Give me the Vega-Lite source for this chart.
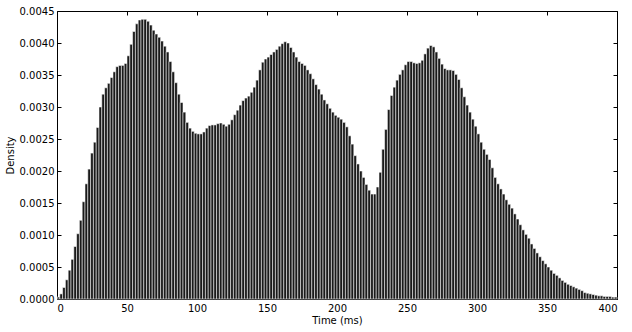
{
  "$schema": "https://vega.github.io/schema/vega-lite/v6.json",
  "autosize": "none",
  "width": 560,
  "height": 288,
  "padding": {"left": 57, "top": 11, "right": 15, "bottom": 33},
  "background": "white",
  "config": {
    "font": "DejaVu Sans",
    "view": {"stroke": "black", "strokeWidth": 1},
    "axis": {
      "grid": false,
      "domain": false,
      "tickColor": "black",
      "tickSize": -4,
      "labelFont": "DejaVu Sans",
      "labelFontSize": 10,
      "labelColor": "black",
      "titleFont": "DejaVu Sans",
      "titleFontSize": 10,
      "titleFontWeight": "normal",
      "titleColor": "black"
    }
  },
  "data": {"values": [
    {"bin":0,"bin_end":2,"density":0.00003},{"bin":2,"bin_end":4,"density":0.00008},{"bin":4,"bin_end":6,"density":0.00018},{"bin":6,"bin_end":8,"density":0.0003},{"bin":8,"bin_end":10,"density":0.00045},
    {"bin":10,"bin_end":12,"density":0.00062},{"bin":12,"bin_end":14,"density":0.00082},{"bin":14,"bin_end":16,"density":0.00102},{"bin":16,"bin_end":18,"density":0.00123},{"bin":18,"bin_end":20,"density":0.00152},
    {"bin":20,"bin_end":22,"density":0.0018},{"bin":22,"bin_end":24,"density":0.00203},{"bin":24,"bin_end":26,"density":0.00228},{"bin":26,"bin_end":28,"density":0.00245},{"bin":28,"bin_end":30,"density":0.00268},
    {"bin":30,"bin_end":32,"density":0.003},{"bin":32,"bin_end":34,"density":0.0032},{"bin":34,"bin_end":36,"density":0.0033},{"bin":36,"bin_end":38,"density":0.00337},{"bin":38,"bin_end":40,"density":0.00346},
    {"bin":40,"bin_end":42,"density":0.00355},{"bin":42,"bin_end":44,"density":0.00363},{"bin":44,"bin_end":46,"density":0.00365},{"bin":46,"bin_end":48,"density":0.00365},{"bin":48,"bin_end":50,"density":0.00368},
    {"bin":50,"bin_end":52,"density":0.0038},{"bin":52,"bin_end":54,"density":0.00398},{"bin":54,"bin_end":56,"density":0.00418},{"bin":56,"bin_end":58,"density":0.0043},{"bin":58,"bin_end":60,"density":0.00436},
    {"bin":60,"bin_end":62,"density":0.00437},{"bin":62,"bin_end":64,"density":0.00437},{"bin":64,"bin_end":66,"density":0.00434},{"bin":66,"bin_end":68,"density":0.00428},{"bin":68,"bin_end":70,"density":0.0042},
    {"bin":70,"bin_end":72,"density":0.00414},{"bin":72,"bin_end":74,"density":0.00409},{"bin":74,"bin_end":76,"density":0.00403},{"bin":76,"bin_end":78,"density":0.00395},{"bin":78,"bin_end":80,"density":0.00386},
    {"bin":80,"bin_end":82,"density":0.00371},{"bin":82,"bin_end":84,"density":0.00355},{"bin":84,"bin_end":86,"density":0.00338},{"bin":86,"bin_end":88,"density":0.0032},{"bin":88,"bin_end":90,"density":0.00307},
    {"bin":90,"bin_end":92,"density":0.00292},{"bin":92,"bin_end":94,"density":0.00276},{"bin":94,"bin_end":96,"density":0.00267},{"bin":96,"bin_end":98,"density":0.00262},{"bin":98,"bin_end":100,"density":0.00259},
    {"bin":100,"bin_end":102,"density":0.00258},{"bin":102,"bin_end":104,"density":0.00258},{"bin":104,"bin_end":106,"density":0.00261},{"bin":106,"bin_end":108,"density":0.00267},{"bin":108,"bin_end":110,"density":0.00271},
    {"bin":110,"bin_end":112,"density":0.00272},{"bin":112,"bin_end":114,"density":0.00272},{"bin":114,"bin_end":116,"density":0.00274},{"bin":116,"bin_end":118,"density":0.00275},{"bin":118,"bin_end":120,"density":0.00273},
    {"bin":120,"bin_end":122,"density":0.0027},{"bin":122,"bin_end":124,"density":0.00273},{"bin":124,"bin_end":126,"density":0.0028},{"bin":126,"bin_end":128,"density":0.00288},{"bin":128,"bin_end":130,"density":0.00295},
    {"bin":130,"bin_end":132,"density":0.00303},{"bin":132,"bin_end":134,"density":0.0031},{"bin":134,"bin_end":136,"density":0.00314},{"bin":136,"bin_end":138,"density":0.00317},{"bin":138,"bin_end":140,"density":0.00323},
    {"bin":140,"bin_end":142,"density":0.00331},{"bin":142,"bin_end":144,"density":0.00342},{"bin":144,"bin_end":146,"density":0.00358},{"bin":146,"bin_end":148,"density":0.0037},{"bin":148,"bin_end":150,"density":0.00375},
    {"bin":150,"bin_end":152,"density":0.00378},{"bin":152,"bin_end":154,"density":0.00382},{"bin":154,"bin_end":156,"density":0.00386},{"bin":156,"bin_end":158,"density":0.0039},{"bin":158,"bin_end":160,"density":0.00395},
    {"bin":160,"bin_end":162,"density":0.00399},{"bin":162,"bin_end":164,"density":0.00402},{"bin":164,"bin_end":166,"density":0.004},{"bin":166,"bin_end":168,"density":0.00393},{"bin":168,"bin_end":170,"density":0.00386},
    {"bin":170,"bin_end":172,"density":0.00378},{"bin":172,"bin_end":174,"density":0.00371},{"bin":174,"bin_end":176,"density":0.00368},{"bin":176,"bin_end":178,"density":0.00365},{"bin":178,"bin_end":180,"density":0.00358},
    {"bin":180,"bin_end":182,"density":0.00352},{"bin":182,"bin_end":184,"density":0.00344},{"bin":184,"bin_end":186,"density":0.00335},{"bin":186,"bin_end":188,"density":0.00328},{"bin":188,"bin_end":190,"density":0.0032},
    {"bin":190,"bin_end":192,"density":0.00311},{"bin":192,"bin_end":194,"density":0.00305},{"bin":194,"bin_end":196,"density":0.00298},{"bin":196,"bin_end":198,"density":0.00292},{"bin":198,"bin_end":200,"density":0.00287},
    {"bin":200,"bin_end":202,"density":0.00284},{"bin":202,"bin_end":204,"density":0.00281},{"bin":204,"bin_end":206,"density":0.00276},{"bin":206,"bin_end":208,"density":0.00269},{"bin":208,"bin_end":210,"density":0.00255},
    {"bin":210,"bin_end":212,"density":0.00242},{"bin":212,"bin_end":214,"density":0.00224},{"bin":214,"bin_end":216,"density":0.00211},{"bin":216,"bin_end":218,"density":0.002},{"bin":218,"bin_end":220,"density":0.0019},
    {"bin":220,"bin_end":222,"density":0.00179},{"bin":222,"bin_end":224,"density":0.0017},{"bin":224,"bin_end":226,"density":0.00164},{"bin":226,"bin_end":228,"density":0.00164},{"bin":228,"bin_end":230,"density":0.00175},
    {"bin":230,"bin_end":232,"density":0.00198},{"bin":232,"bin_end":234,"density":0.00234},{"bin":234,"bin_end":236,"density":0.00265},{"bin":236,"bin_end":238,"density":0.00296},{"bin":238,"bin_end":240,"density":0.00318},
    {"bin":240,"bin_end":242,"density":0.00331},{"bin":242,"bin_end":244,"density":0.00342},{"bin":244,"bin_end":246,"density":0.00351},{"bin":246,"bin_end":248,"density":0.00358},{"bin":248,"bin_end":250,"density":0.00366},
    {"bin":250,"bin_end":252,"density":0.00371},{"bin":252,"bin_end":254,"density":0.00371},{"bin":254,"bin_end":256,"density":0.00369},{"bin":256,"bin_end":258,"density":0.00368},{"bin":258,"bin_end":260,"density":0.00369},
    {"bin":260,"bin_end":262,"density":0.00373},{"bin":262,"bin_end":264,"density":0.00383},{"bin":264,"bin_end":266,"density":0.00392},{"bin":266,"bin_end":268,"density":0.00396},{"bin":268,"bin_end":270,"density":0.00394},
    {"bin":270,"bin_end":272,"density":0.00386},{"bin":272,"bin_end":274,"density":0.00376},{"bin":274,"bin_end":276,"density":0.00367},{"bin":276,"bin_end":278,"density":0.0036},{"bin":278,"bin_end":280,"density":0.00358},
    {"bin":280,"bin_end":282,"density":0.00358},{"bin":282,"bin_end":284,"density":0.00357},{"bin":284,"bin_end":286,"density":0.00351},{"bin":286,"bin_end":288,"density":0.00343},{"bin":288,"bin_end":290,"density":0.0033},
    {"bin":290,"bin_end":292,"density":0.00316},{"bin":292,"bin_end":294,"density":0.00303},{"bin":294,"bin_end":296,"density":0.00292},{"bin":296,"bin_end":298,"density":0.00281},{"bin":298,"bin_end":300,"density":0.0027},
    {"bin":300,"bin_end":302,"density":0.00258},{"bin":302,"bin_end":304,"density":0.00245},{"bin":304,"bin_end":306,"density":0.00234},{"bin":306,"bin_end":308,"density":0.00226},{"bin":308,"bin_end":310,"density":0.00218},
    {"bin":310,"bin_end":312,"density":0.00205},{"bin":312,"bin_end":314,"density":0.0019},{"bin":314,"bin_end":316,"density":0.0018},{"bin":316,"bin_end":318,"density":0.00172},{"bin":318,"bin_end":320,"density":0.00164},
    {"bin":320,"bin_end":322,"density":0.00155},{"bin":322,"bin_end":324,"density":0.00148},{"bin":324,"bin_end":326,"density":0.00142},{"bin":326,"bin_end":328,"density":0.00133},{"bin":328,"bin_end":330,"density":0.00125},
    {"bin":330,"bin_end":332,"density":0.00116},{"bin":332,"bin_end":334,"density":0.00108},{"bin":334,"bin_end":336,"density":0.00101},{"bin":336,"bin_end":338,"density":0.00095},{"bin":338,"bin_end":340,"density":0.00086},
    {"bin":340,"bin_end":342,"density":0.00079},{"bin":342,"bin_end":344,"density":0.00072},{"bin":344,"bin_end":346,"density":0.00066},{"bin":346,"bin_end":348,"density":0.0006},{"bin":348,"bin_end":350,"density":0.00055},
    {"bin":350,"bin_end":352,"density":0.0005},{"bin":352,"bin_end":354,"density":0.00045},{"bin":354,"bin_end":356,"density":0.0004},{"bin":356,"bin_end":358,"density":0.00037},{"bin":358,"bin_end":360,"density":0.00033},
    {"bin":360,"bin_end":362,"density":0.00029},{"bin":362,"bin_end":364,"density":0.00026},{"bin":364,"bin_end":366,"density":0.00023},{"bin":366,"bin_end":368,"density":0.00021},{"bin":368,"bin_end":370,"density":0.00019},
    {"bin":370,"bin_end":372,"density":0.00017},{"bin":372,"bin_end":374,"density":0.00015},{"bin":374,"bin_end":376,"density":0.00013},{"bin":376,"bin_end":378,"density":0.0001},{"bin":378,"bin_end":380,"density":0.00009},
    {"bin":380,"bin_end":382,"density":0.00008},{"bin":382,"bin_end":384,"density":0.00007},{"bin":384,"bin_end":386,"density":0.00006},{"bin":386,"bin_end":388,"density":0.00005},{"bin":388,"bin_end":390,"density":0.00005},
    {"bin":390,"bin_end":392,"density":0.00004},{"bin":392,"bin_end":394,"density":0.00004},{"bin":394,"bin_end":396,"density":0.00004},{"bin":396,"bin_end":398,"density":0.00003},{"bin":398,"bin_end":400,"density":0.00003}
  ]},
  "layer": [
    {
      "mark": {"type": "bar", "fill": "#1a1a1a", "stroke": "white", "strokeWidth": 0.6, "strokeOpacity": 0.9},
      "encoding": {
        "x": {"field": "bin", "type": "quantitative", "scale": {"domain": [0, 400], "nice": false, "zero": false},
              "axis": {"orient": "bottom", "title": "Time (ms)", "values": [0, 50, 100, 150, 200, 250, 300, 350, 400], "labelPadding": 8, "titlePadding": 2}},
        "x2": {"field": "bin_end"},
        "y": {"field": "density", "type": "quantitative", "scale": {"domain": [0, 0.0045], "nice": false},
              "axis": {"orient": "left", "title": "Density", "format": ".4f", "values": [0, 0.0005, 0.001, 0.0015, 0.002, 0.0025, 0.003, 0.0035, 0.004, 0.0045], "labelPadding": 7, "titlePadding": 4}},
        "y2": {"datum": 0}
      }
    },
    {
      "mark": {"type": "tick", "opacity": 0},
      "encoding": {
        "x": {"field": "bin", "type": "quantitative",
              "axis": {"orient": "top", "title": null, "labels": false, "values": [0, 50, 100, 150, 200, 250, 300, 350, 400]}},
        "y": {"field": "density", "type": "quantitative",
              "axis": {"orient": "right", "title": null, "labels": false, "values": [0, 0.0005, 0.001, 0.0015, 0.002, 0.0025, 0.003, 0.0035, 0.004, 0.0045]}}
      }
    }
  ],
  "resolve": {"axis": {"x": "independent", "y": "independent"}}
}
